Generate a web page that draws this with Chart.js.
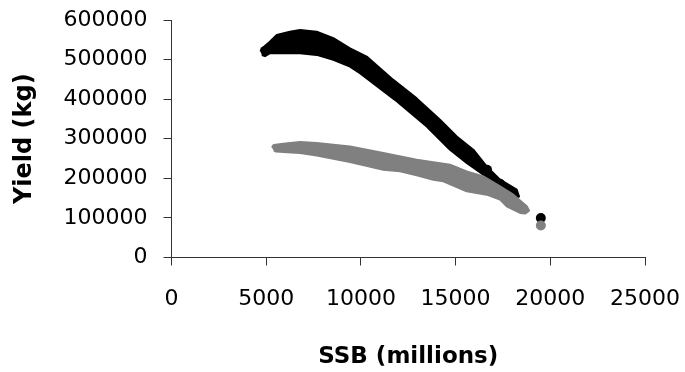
<!DOCTYPE html>
<html>
<head>
<meta charset="utf-8">
<script src="https://cdn.jsdelivr.net/npm/chart.js@4"></script>
<style>
html,body{margin:0;padding:0;background:#ffffff;}
#wrap{width:685px;height:372px;}
</style>
</head>
<body>
<div id="wrap"><canvas id="c" width="685" height="372"></canvas></div>
<script>
// Tick labels
const xTicks = [0, 5000, 10000, 15000, 20000, 25000];
const yTicks = [0, 100000, 200000, 300000, 400000, 500000, 600000];

// Black series: outline of the dense cloud of points (upper edge left->right, lower edge right->left)
const blackOutlineX = [4700, 4760, 4900, 5100, 5555, 6255, 6785, 7665, 8545, 9425, 10305, 11710, 12945, 14175, 15060, 15935, 16640, 17345, 18225, 18350, 17870, 17345, 16465, 15585, 14705, 13475, 11800, 9950, 9425, 8545, 7665, 6785, 5905, 5200, 4937, 4770];
const blackOutlineY = [520000, 528500, 533000, 541000, 562000, 570500, 575000, 570500, 554000, 528500, 507500, 448700, 402000, 348000, 305800, 272300, 230200, 196600, 171400, 153800, 146200, 176500, 209200, 238700, 272300, 331000, 398300, 465600, 482300, 499200, 511800, 516000, 516000, 516000, 508700, 511500];
// Black individual visible points
const blackPointsX = [15390, 16660, 17345, 18030, 19500];
const blackPointsY = [269700, 221800, 186500, 161300, 100000];

// Gray series: outline of the dense cloud of points
const grayOutlineX = [5300, 5400, 5903, 6785, 7667, 9425, 11183, 12947, 14705, 15587, 16463, 17345, 18047, 18755, 18876, 18665, 18400, 17698, 17345, 16643, 15587, 14351, 13823, 12947, 12065, 11183, 9425, 7667, 6785, 5903, 5518, 5400];
const grayOutlineY = [277500, 284500, 287400, 291700, 289200, 280600, 264000, 247100, 234600, 217600, 205000, 179700, 158800, 129300, 118500, 110900, 112700, 129300, 146200, 158800, 167100, 192300, 196600, 207500, 217600, 221800, 241300, 257900, 264000, 266500, 267500, 270500];
// Gray individual visible points
const grayPointsX = [19500];
const grayPointsY = [80700];

const toPts = (xs, ys) => xs.map((x, i) => ({x: x, y: ys[i]}));

const BLACK = '#000000';
const GRAY = '#808080';
const AXIS = '#333333';
const FAMILY = "'DejaVu Sans', sans-serif";

function noAutoPad(s) {
  s.paddingTop = 0; s.paddingBottom = 0; s.paddingLeft = 0; s.paddingRight = 0;
}

new Chart(document.getElementById('c'), {
  type: 'scatter',
  data: {
    datasets: [
      {label: 'gray', data: toPts(grayOutlineX, grayOutlineY), showLine: true, fill: 'shape', tension: 0,
       backgroundColor: GRAY, borderColor: GRAY, borderWidth: 2, borderJoinStyle: 'round', pointRadius: 0, order: 0},
      {label: 'gray points', data: toPts(grayPointsX, grayPointsY), showLine: false,
       backgroundColor: GRAY, borderColor: GRAY, borderWidth: 0, pointRadius: 5, order: 0},
      {label: 'black', data: toPts(blackOutlineX, blackOutlineY), showLine: true, fill: 'shape', tension: 0,
       backgroundColor: BLACK, borderColor: BLACK, borderWidth: 2, borderJoinStyle: 'round', pointRadius: 0, order: 1},
      {label: 'black points', data: toPts(blackPointsX, blackPointsY), showLine: false,
       backgroundColor: BLACK, borderColor: BLACK, borderWidth: 0, pointRadius: 5, order: 1}
    ]
  },
  options: {
    responsive: false,
    animation: false,
    devicePixelRatio: 1,
    layout: {padding: {top: 20, right: 40, left: 0, bottom: 0}},
    plugins: {legend: {display: false}, tooltip: {enabled: false}},
    scales: {
      x: {
        type: 'linear', min: 0, max: 25000,
        afterBuildTicks: s => { s.ticks = xTicks.map(v => ({value: v})); },
        afterFit: s => { s.height = 114.5; noAutoPad(s); },
        grid: {drawOnChartArea: false, drawTicks: true, tickLength: 8, color: AXIS},
        border: {display: true, color: AXIS, width: 1},
        ticks: {font: {family: FAMILY, size: 22}, color: '#000', padding: 21, maxRotation: 0, autoSkip: false,
                callback: v => String(v)},
        title: {display: true, text: 'SSB (millions)', color: '#000',
                font: {family: FAMILY, size: 23, weight: 'bold'}, padding: {top: 0, bottom: 1}}
      },
      y: {
        type: 'linear', min: 0, max: 600000,
        afterBuildTicks: s => { s.ticks = yTicks.map(v => ({value: v})); },
        afterFit: s => { s.width = 171.5; noAutoPad(s); },
        grid: {drawOnChartArea: false, drawTicks: true, tickLength: 8, color: AXIS},
        border: {display: true, color: AXIS, width: 1},
        ticks: {font: {family: FAMILY, size: 22}, color: '#000', padding: 16, autoSkip: false,
                callback: v => String(v)},
        title: {display: true, text: 'Yield (kg)', color: '#000',
                font: {family: FAMILY, size: 24, weight: 'bold'}, padding: {top: 10, bottom: 0}}
      }
    }
  }
});
</script>
</body>
</html>
